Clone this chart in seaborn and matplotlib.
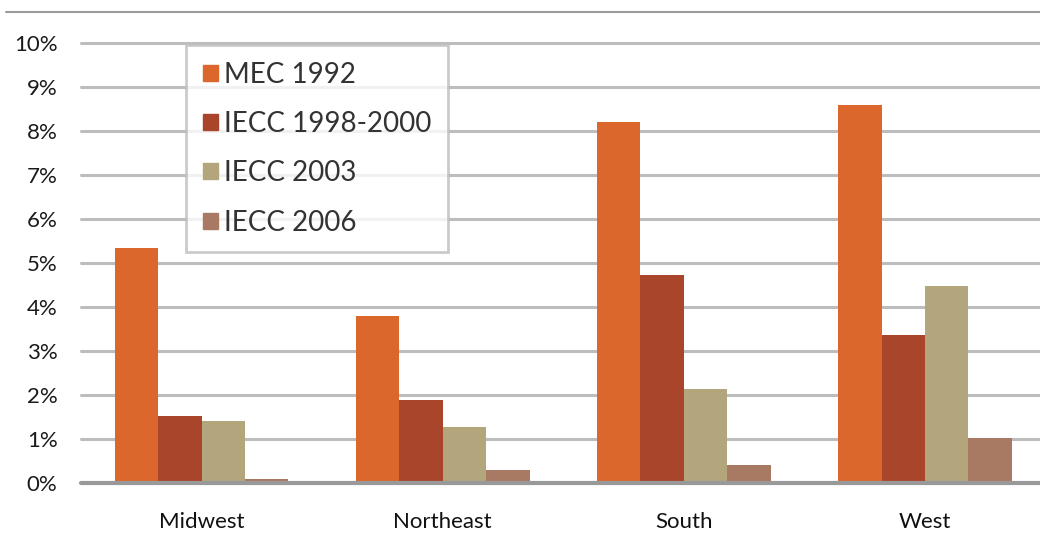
import matplotlib
matplotlib.use("Agg")
import matplotlib.pyplot as plt
from matplotlib.lines import Line2D
import seaborn as sns
import pandas as pd

regions = ["Midwest", "Northeast", "South", "West"]
codes = ["MEC 1992", "IECC 1998-2000", "IECC 2003", "IECC 2006"]
mec_1992 = [5.34, 3.79, 8.21, 8.58]
iecc_1998_2000 = [1.53, 1.89, 4.72, 3.36]
iecc_2003 = [1.40, 1.28, 2.14, 4.48]
iecc_2006 = [0.10, 0.29, 0.42, 1.03]
y_ticks = [0, 1, 2, 3, 4, 5, 6, 7, 8, 9, 10]

colors = ["#DB672C", "#A9452B", "#B3A57C", "#A87963"]

rows = []
for code, vals in zip(codes, [mec_1992, iecc_1998_2000, iecc_2003, iecc_2006]):
    for region, v in zip(regions, vals):
        rows.append({"region": region, "code": code, "value": v})
df = pd.DataFrame(rows)

sns.set_theme(style="white")
plt.rcParams["font.family"] = ["Lato", "DejaVu Sans"]

fig = plt.figure(figsize=(10.4, 5.35), dpi=100)
ax = fig.add_axes([0.078, 0.0972, 0.925, 0.8224])

sns.barplot(data=df, x="region", y="value", hue="code", order=regions,
            hue_order=codes, palette=colors, width=0.72, gap=0,
            saturation=1, linewidth=0, ax=ax, legend=False, zorder=3)

ax.set_ylim(0, 10)
ax.set_xlim(-0.5, 3.49)
ax.set_yticks(y_ticks)
ax.set_yticklabels([f"{t}%" for t in y_ticks])
for s in ax.spines.values():
    s.set_visible(False)
for t in y_ticks[1:]:
    ax.axhline(t, color="#BDBDBD", lw=2.2, zorder=1, clip_on=False)
ax.axhline(0, color="#999999", lw=3, zorder=4, clip_on=False)
ax.tick_params(axis="y", length=0, pad=17, labelsize=16, labelcolor="#1a1a1a")
ax.tick_params(axis="x", length=0, pad=21, labelsize=16, labelcolor="#111111")
ax.set_xlabel("")
ax.set_ylabel("")

handles = [plt.Rectangle((0, 0), 1, 1, color=c) for c in colors]
leg = fig.legend(handles, codes, loc="upper left",
                 bbox_to_anchor=(0.179, 0.916), frameon=True, fancybox=False,
                 fontsize=20, handlelength=0.55, handleheight=0.5,
                 handletextpad=0.22, labelspacing=0.84, borderpad=0.6,
                 borderaxespad=0, labelcolor="#333333")
leg.get_frame().set_edgecolor("#BDBDBD")
leg.get_frame().set_linewidth(2)
leg.set_zorder(10)

fig.add_artist(Line2D([0.006, 1.0], [0.978, 0.978], color="#9A9A9A", lw=1.5,
                      transform=fig.transFigure))

fig.savefig("out.png", dpi=100, facecolor="white")
